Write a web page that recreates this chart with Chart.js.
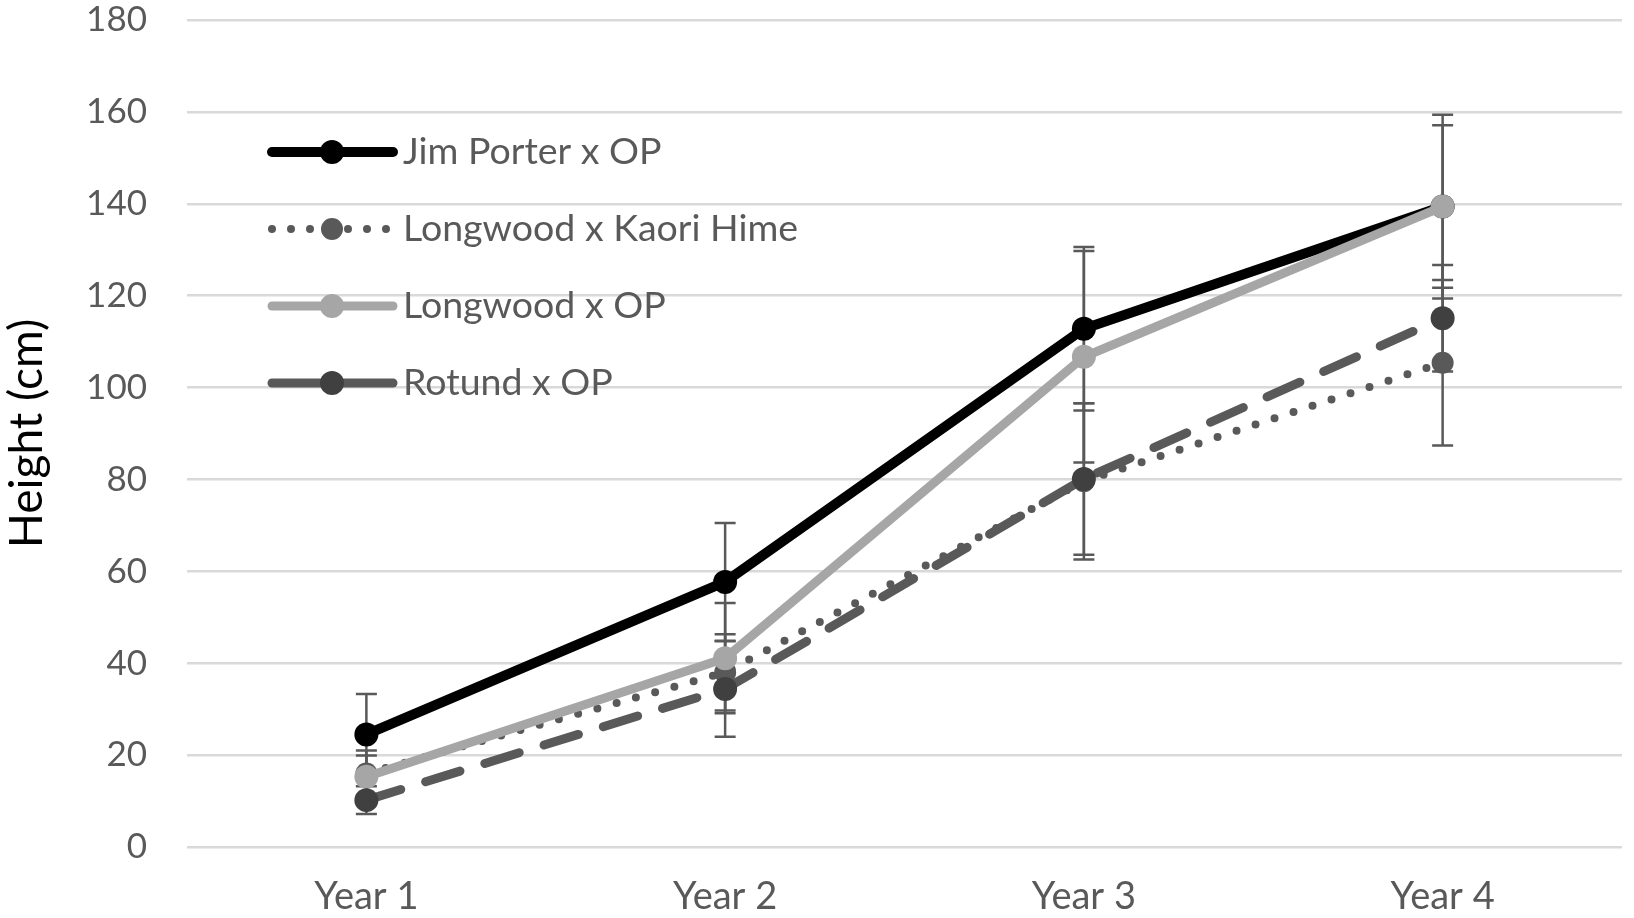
<!DOCTYPE html>
<html>
<head>
<meta charset="utf-8">
<script src="https://cdn.jsdelivr.net/npm/chart.js@4"></script>
<style>
  html, body { margin: 0; padding: 0; background: #ffffff; }
  #wrap { width: 1634px; height: 918px; position: relative; }
</style>
</head>
<body>
<div id="wrap"><canvas id="c" width="1634" height="918"></canvas></div>
<script>
// ---- data ----
const categories = ["Year 1", "Year 2", "Year 3", "Year 4"];
const seriesNames = ["Jim Porter x OP", "Longwood x Kaori Hime", "Longwood x OP", "Rotund x OP"];
const jimPorter = [24.5, 57.7, 112.8, 139.4];
const jimPorterErr = [8.8, 12.8, 17.8, 20.0];
const kaoriHime = [16.0, 38.0, 79.6, 105.4];
const kaoriHimeErr = [5.0, 8.3, 17.0, 18.0];
const longwoodOP = [15.3, 41.1, 106.7, 139.4];
const longwoodOPErr = [4.6, 12.0, 23.0, 17.7];
const rotund = [10.2, 34.4, 80.1, 115.1];
const rotundErr = [3.0, 10.4, 16.5, 11.6];
const yTicks = [0, 20, 40, 60, 80, 100, 120, 140, 160, 180];

const FONT = "Lato, 'Open Sans', sans-serif";
const TXT = "#595959";

const errorBarPlugin = {
  id: "errorBars",
  beforeDatasetsDraw(chart) {
    const ctx = chart.ctx;
    const y = chart.scales.y;
    ctx.save();
    ctx.strokeStyle = "#595959";
    ctx.lineWidth = 2.5;
    chart.data.datasets.forEach((ds, i) => {
      const meta = chart.getDatasetMeta(i);
      ds.data.forEach((v, j) => {
        const e = ds.errors[j];
        const px = meta.data[j].x;
        const top = y.getPixelForValue(v + e);
        const bot = y.getPixelForValue(v - e);
        ctx.beginPath();
        ctx.moveTo(px, top); ctx.lineTo(px, bot);
        ctx.moveTo(px - 10.5, top); ctx.lineTo(px + 10.5, top);
        ctx.moveTo(px - 10.5, bot); ctx.lineTo(px + 10.5, bot);
        ctx.stroke();
      });
    });
    ctx.restore();
  }
};

const legendPlugin = {
  id: "insideLegend",
  afterDraw(chart) {
    const ctx = chart.ctx;
    const x0 = 272, x1 = 393, xm = 332, tx = 403;
    const rows = [152, 229, 306, 383];
    ctx.save();
    chart.data.datasets.forEach((ds, i) => {
      const yy = rows[i];
      ctx.beginPath();
      ctx.strokeStyle = ds.borderColor;
      ctx.lineWidth = ds.borderWidth;
      ctx.lineCap = "round";
      ctx.setLineDash(ds.legendDash || []);
      ctx.moveTo(x0, yy); ctx.lineTo(x1, yy);
      ctx.stroke();
      ctx.setLineDash([]);
      ctx.beginPath();
      ctx.fillStyle = ds.pointBackgroundColor;
      ctx.arc(xm, yy, ds.pointRadius, 0, Math.PI * 2);
      ctx.fill();
      ctx.fillStyle = TXT;
      ctx.font = "37.5px " + FONT;
      ctx.textBaseline = "middle";
      ctx.textAlign = "left";
      ctx.fillText(ds.label, tx, yy);
    });
    ctx.restore();
  }
};

new Chart(document.getElementById("c"), {
  type: "line",
  data: {
    labels: categories,
    datasets: [
      { label: seriesNames[0], data: jimPorter, errors: jimPorterErr, order: 4,
        borderColor: "#000000", borderWidth: 10, borderCapStyle: "round",
        pointRadius: 12, pointBackgroundColor: "#000000", pointBorderWidth: 0 },
      { label: seriesNames[1], data: kaoriHime, errors: kaoriHimeErr, order: 3,
        borderColor: "#595959", borderWidth: 8, borderCapStyle: "round", borderDash: [0, 20],
        legendDash: [0, 19],
        pointRadius: 11, pointBackgroundColor: "#595959", pointBorderWidth: 0 },
      { label: seriesNames[2], data: longwoodOP, errors: longwoodOPErr, order: 2,
        borderColor: "#a6a6a6", borderWidth: 9, borderCapStyle: "round",
        pointRadius: 12, pointBackgroundColor: "#a6a6a6", pointBorderWidth: 0 },
      { label: seriesNames[3], data: rotund, errors: rotundErr, order: 1,
        borderColor: "#595959", borderWidth: 9, borderCapStyle: "round", borderDash: [36, 26],
        pointRadius: 12, pointBackgroundColor: "#404040", pointBorderWidth: 0 }
    ]
  },
  options: {
    responsive: false,
    animation: false,
    devicePixelRatio: 1,
    layout: { padding: { top: 20, right: 9, left: 0, bottom: 0 } },
    plugins: { legend: { display: false }, tooltip: { enabled: false } },
    elements: { line: { tension: 0 } },
    scales: {
      x: {
        offset: true,
        grid: { display: false, drawTicks: false },
        border: { display: false },
        ticks: { color: TXT, font: { family: FONT, size: 38 }, padding: 27 },
        afterFit(s) { s.height = 71; s.paddingLeft = 0; s.paddingRight = 0; }
      },
      y: {
        min: 0, max: 180,
        afterBuildTicks(s) { s.ticks = yTicks.map(v => ({ value: v })); },
        grid: { color: "#d9d9d9", lineWidth: 2.5, drawTicks: false },
        border: { display: false },
        ticks: { color: TXT, font: { family: FONT, size: 35 }, padding: 40 },
        title: { display: true, text: "Height (cm)", color: "#000000",
                 font: { family: FONT, size: 46 }, padding: 0 },
        afterFit(s) { s.width = 187; s.paddingTop = 0; s.paddingBottom = 0; }
      }
    }
  },
  plugins: [errorBarPlugin, legendPlugin]
});
</script>
</body>
</html>
